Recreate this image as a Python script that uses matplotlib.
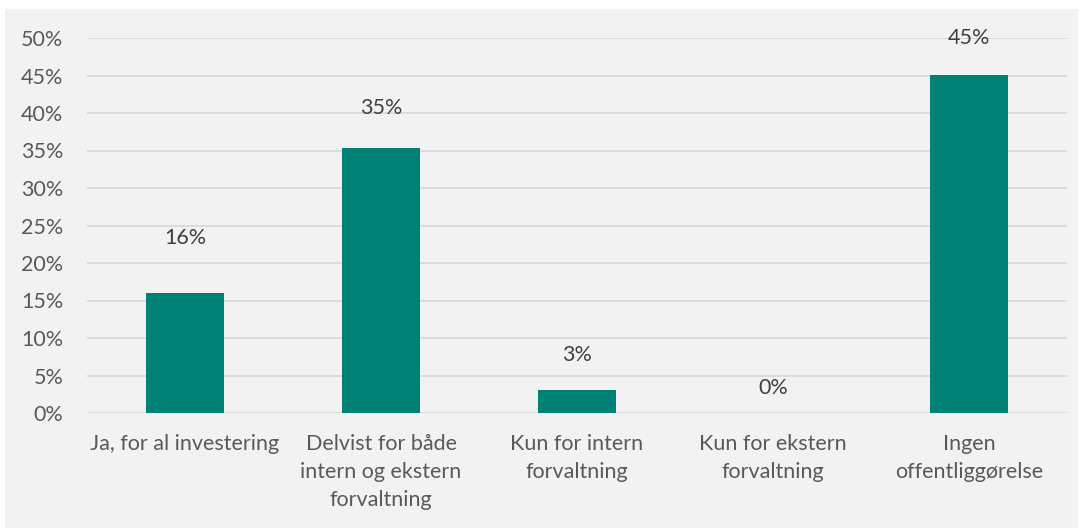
import numpy as np
import matplotlib
matplotlib.use("Agg")
import matplotlib.pyplot as plt
from matplotlib.ticker import PercentFormatter

categories = ["Ja, for al investering",
              "Delvist for både\nintern og ekstern\nforvaltning",
              "Kun for intern\nforvaltning",
              "Kun for ekstern\nforvaltning",
              "Ingen\noffentliggørelse"]
values = [16, 35.3, 3.1, 0, 45.1]
labels = ["16%", "35%", "3%", "0%", "45%"]
# label lift above bar top (in percentage points), as placed in the original
label_lift = [7.3, 5.4, 4.6, 3.3, 4.9]

BG = "#f2f2f2"; BAR = "#008176"; TXT = "#595959"; GRID = "#d9d9d9"
plt.rcParams["font.family"] = ["Lato", "DejaVu Sans"]

fig = plt.figure(figsize=(10.82, 5.28), dpi=100, facecolor="white")
fig.patches.append(plt.Rectangle((5/1082, 0), 1073/1082, 1 - 9/528, transform=fig.transFigure,
                                 fc=BG, ec="none", zorder=-1))
ax = fig.add_axes([87/1082, 1 - 413/528, 980/1082, 375/528])
ax.set_facecolor(BG)
x = np.arange(len(categories))
ax.bar(x, values, width=0.40, color=BAR, zorder=3)
for xi, v, lab, lift in zip(x, values, labels, label_lift):
    ax.text(xi, v + lift, lab, ha="center", va="center", fontsize=15.5, color="#404040", zorder=4)

ax.set_xlim(-0.5, len(categories) - 0.5)
ax.set_ylim(0, 50)
ax.set_yticks(np.arange(0, 51, 5))
ax.yaxis.set_major_formatter(PercentFormatter(decimals=0))
ax.grid(axis="y", color=GRID, lw=1.3, zorder=0)
ax.set_xticks(x)
ax.set_xticklabels(categories, fontsize=15.5, color=TXT, linespacing=1.5)
ax.tick_params(axis="y", labelsize=15.5, labelcolor=TXT, length=0, pad=17)
ax.tick_params(axis="x", length=0, pad=15)
for s in ax.spines.values():
    s.set_visible(False)

fig.savefig("out.png", dpi=100, facecolor="white")
